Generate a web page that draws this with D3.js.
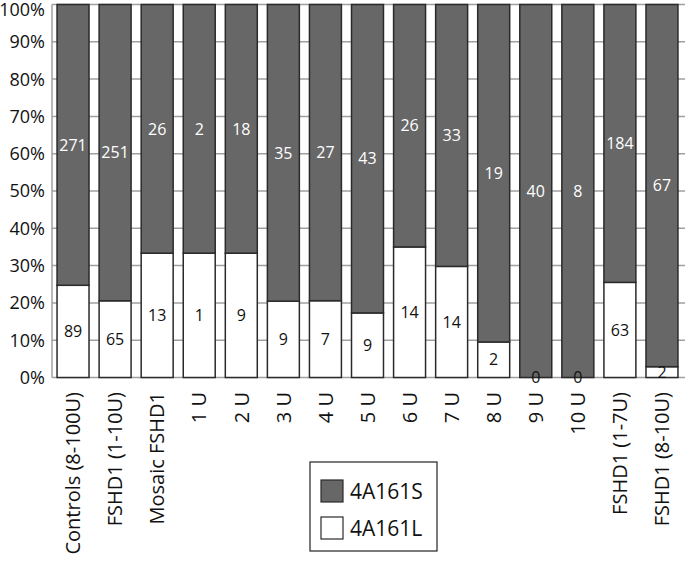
<html>
<head>
  <script src="https://d3js.org/d3.v7.min.js"></script>
  <style type="text/css">
  body { margin: 0; background: #fff; }
  text { font-family: "Open Sans", sans-serif; }
  </style>
</head>
<body>
<div id="viz"></div>
<script type="text/javascript">

const categories = ["Controls (8-100U)", "FSHD1 (1-10U)", "Mosaic FSHD1", "1 U", "2 U", "3 U", "4 U",
  "5 U", "6 U", "7 U", "8 U", "9 U", "10 U", "FSHD1 (1-7U)", "FSHD1 (8-10U)"];
const longCounts = [89, 65, 13, 1, 9, 9, 7, 9, 14, 14, 2, 0, 0, 63, 2];
const shortCounts = [271, 251, 26, 2, 18, 35, 27, 43, 26, 33, 19, 40, 8, 184, 67];
const tickValues = [0, 0.1, 0.2, 0.3, 0.4, 0.5, 0.6, 0.7, 0.8, 0.9, 1];
const seriesNames = ["4A161S", "4A161L"];

const W = 685, H = 571;
const DARK = "#676767";

let svg = d3.select("#viz").append("svg")
  .attr("width", W)
  .attr("height", H);

let x = d3.scaleBand()
  .domain(categories)
  .range([52, 683])
  .paddingInner(0.24)
  .paddingOuter(0.12);

let y = d3.scaleLinear()
  .domain([0, 1])
  .range([377.5, 4.5]);

// gridlines
svg.selectAll(".grid")
  .data(tickValues)
  .enter().append("line")
  .attr("x1", 52)
  .attr("x2", 685)
  .attr("y1", d => y(d))
  .attr("y2", d => y(d))
  .style("stroke", "#a0a0a0")
  .style("stroke-width", 1.5);

svg.append("line")
  .attr("x1", 52).attr("x2", 52)
  .attr("y1", y(0)).attr("y2", y(1))
  .style("stroke", "#a0a0a0")
  .style("stroke-width", 1.5);

svg.selectAll(".ytick")
  .data(tickValues)
  .enter().append("text")
  .attr("x", 45)
  .attr("y", d => Math.max(y(d), 10))
  .attr("dy", "0.36em")
  .attr("text-anchor", "end")
  .style("font-size", "18px")
  .style("fill", "#111")
  .text(d => d3.format(".0%")(d));

let rows = categories.map((c, i) => {
  let total = longCounts[i] + shortCounts[i];
  return { cat: c, l: longCounts[i], s: shortCounts[i], lp: longCounts[i] / total };
});

// white (L) part
svg.selectAll(".barL")
  .data(rows)
  .enter().append("rect")
  .attr("x", d => x(d.cat))
  .attr("width", x.bandwidth())
  .attr("y", d => y(d.lp))
  .attr("height", d => y(0) - y(d.lp))
  .attr("fill", "#fff")
  .attr("stroke", "#2a2a2a")
  .attr("stroke-width", 1.5);

// dark (S) part
svg.selectAll(".barS")
  .data(rows)
  .enter().append("rect")
  .attr("x", d => x(d.cat))
  .attr("width", x.bandwidth())
  .attr("y", y(1))
  .attr("height", d => y(d.lp) - y(1))
  .attr("fill", DARK)
  .attr("stroke", "#2a2a2a")
  .attr("stroke-width", 1.5);

svg.selectAll(".labS")
  .data(rows)
  .enter().append("text")
  .attr("x", d => x(d.cat) + x.bandwidth() / 2)
  .attr("y", d => y((d.lp + 1) / 2))
  .attr("dy", "0.36em")
  .attr("text-anchor", "middle")
  .style("font-size", "16px")
  .style("fill", "#fff")
  .text(d => d.s);

svg.selectAll(".labL")
  .data(rows)
  .enter().append("text")
  .attr("x", d => x(d.cat) + x.bandwidth() / 2)
  .attr("y", d => y(d.lp / 2))
  .attr("dy", "0.36em")
  .attr("text-anchor", "middle")
  .style("font-size", "16px")
  .style("fill", "#111")
  .text(d => d.l);

// category labels
svg.selectAll(".xlab")
  .data(categories)
  .enter().append("text")
  .attr("transform", d => `translate(${x(d) + x.bandwidth() / 2},392) rotate(-90)`)
  .attr("dy", "0.36em")
  .attr("text-anchor", "end")
  .style("font-size", "20px")
  .style("fill", "#111")
  .text(d => d);

// legend
let legend = svg.append("g");
legend.append("rect")
  .attr("x", 310).attr("y", 462)
  .attr("width", 127).attr("height", 89)
  .attr("fill", "#fff")
  .attr("stroke", "#222")
  .attr("stroke-width", 1.2);

let fills = [DARK, "#fff"];
seriesNames.forEach((name, i) => {
  legend.append("rect")
    .attr("x", 321).attr("y", 480 + i * 37)
    .attr("width", 22).attr("height", 22)
    .attr("fill", fills[i])
    .attr("stroke", "#2a2a2a")
    .attr("stroke-width", 1.2);
  legend.append("text")
    .attr("x", 350).attr("y", 491 + i * 37)
    .attr("dy", "0.36em")
    .style("font-size", "21px")
    .style("fill", "#111")
    .text(name);
});

</script>
</body>
</html>
